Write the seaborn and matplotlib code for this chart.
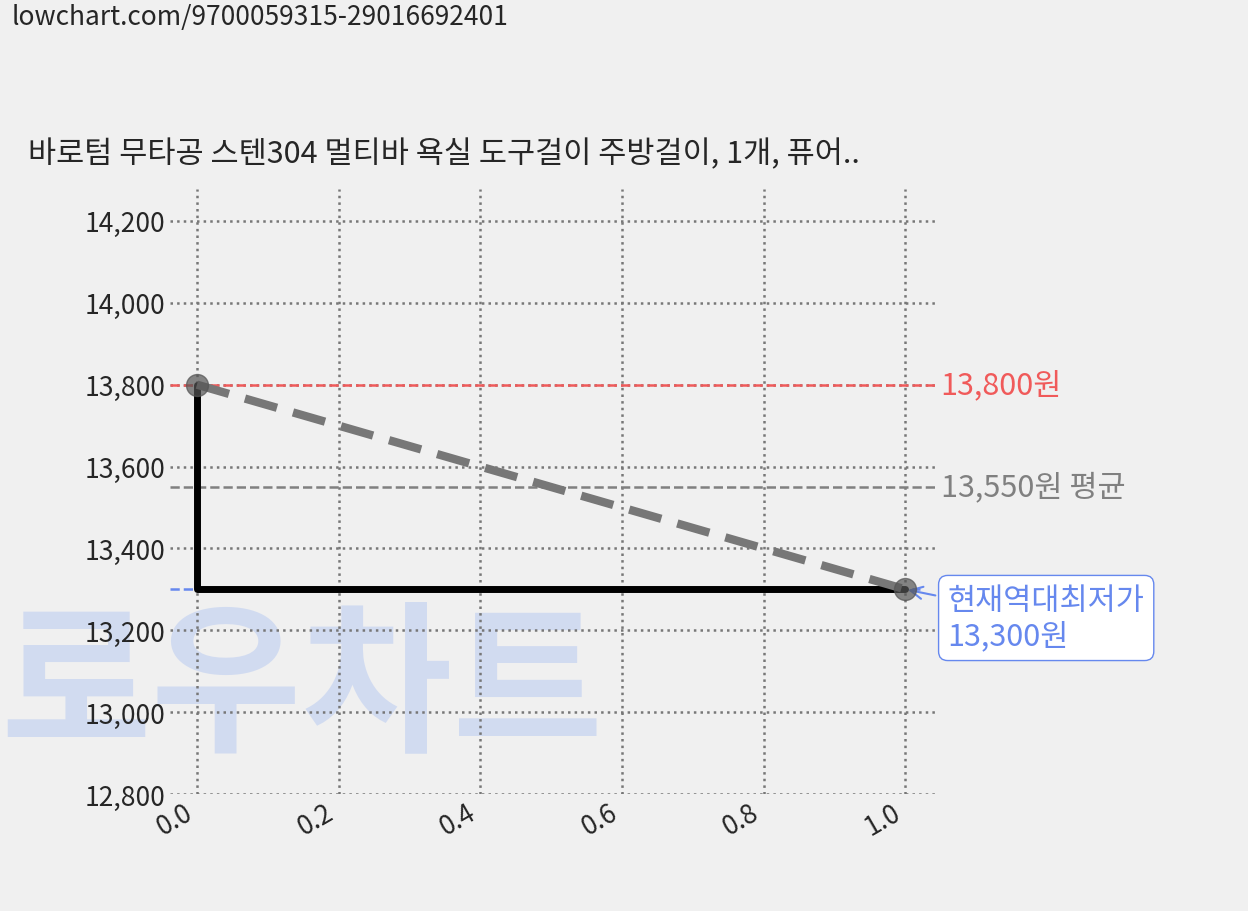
import matplotlib
matplotlib.use("Agg")
import matplotlib.pyplot as plt
import seaborn as sns

sns.set_style("white")
plt.rcParams['font.family'] = ['Noto Sans CJK KR', 'DejaVu Sans']

x_vals = [0.0, 1.0]
prices = [13800, 13300]
step_x = [0.0, 0.0, 1.0]
step_y = [13800, 13300, 13300]
max_price = 13800
avg_price = 13550
min_price = 13300
title = "바로텀 무타공 스텐304 멀티바 욕실 도구걸이 주방걸이, 1개, 퓨어.."
url_text = "lowchart.com/9700059315-29016692401"

bg = "#f0f0f0"
fig = plt.figure(figsize=(12.48, 9.12), dpi=100, facecolor=bg)
ax = fig.add_axes([170/1248, 1-795/912, (935-170)/1248, (795-190)/912])
ax.patch.set_alpha(0)

fig.text(0/1248, 1-690/912, "로우차트", fontsize=118, color="#c5d3f0", alpha=0.7,
         ha="left", va="center", fontweight="bold", zorder=-1)

ax.grid(True, linestyle=":", color="#777777", linewidth=1.8)
for s in ax.spines.values():
    s.set_visible(False)

ax.axhline(max_price, color="#f05a5a", linestyle="--", linewidth=1.8)
ax.axhline(avg_price, color="#808080", linestyle="--", linewidth=1.8)
ax.axhline(min_price, color="#6688ee", linestyle="--", linewidth=1.8, xmax=0.98)

sns.lineplot(x=step_x, y=step_y, ax=ax, color="black", linewidth=5, sort=False,
             estimator=None, zorder=3)
sns.lineplot(x=x_vals, y=prices, ax=ax, color="#777777", linewidth=6,
             linestyle=(0, (4, 2)), estimator=None, zorder=4)
ax.scatter(x_vals, prices, s=250, color="#555555", alpha=0.7, zorder=5)

ax.set_xlim(-0.038, 1.042)
ax.set_ylim(12800, 14278)
ax.set_yticks([12800, 13000, 13200, 13400, 13600, 13800, 14000, 14200])
ax.set_yticklabels([f"{v:,}" for v in ax.get_yticks().astype(int)], fontsize=19)
ax.set_xticks([0.0, 0.2, 0.4, 0.6, 0.8, 1.0])
ax.set_xticklabels(["0.0", "0.2", "0.4", "0.6", "0.8", "1.0"], fontsize=19, rotation=30, ha="right")
ax.tick_params(length=0)

ax.text(1.05, max_price, f"{max_price:,}원", color="#f05a5a", fontsize=22, va="center")
ax.text(1.05, avg_price, f"{avg_price:,}원 평균", color="#808080", fontsize=22, va="center")
ax.annotate(f"현재역대최저가\n{min_price:,}원", xy=(1.0, min_price), xytext=(1.06, min_price - 70),
            color="#6688ee", fontsize=22, va="center", annotation_clip=False,
            bbox=dict(boxstyle="round,pad=0.3", fc="white", ec="#6688ee"),
            arrowprops=dict(arrowstyle="->", color="#6688ee", lw=1.5))

fig.text(28/1248, 1-155/912, title, fontsize=22, va="center")
fig.text(12/1248, 1-17/912, url_text, fontsize=19, va="center")

fig.savefig("out.png", dpi=100, facecolor=bg)
